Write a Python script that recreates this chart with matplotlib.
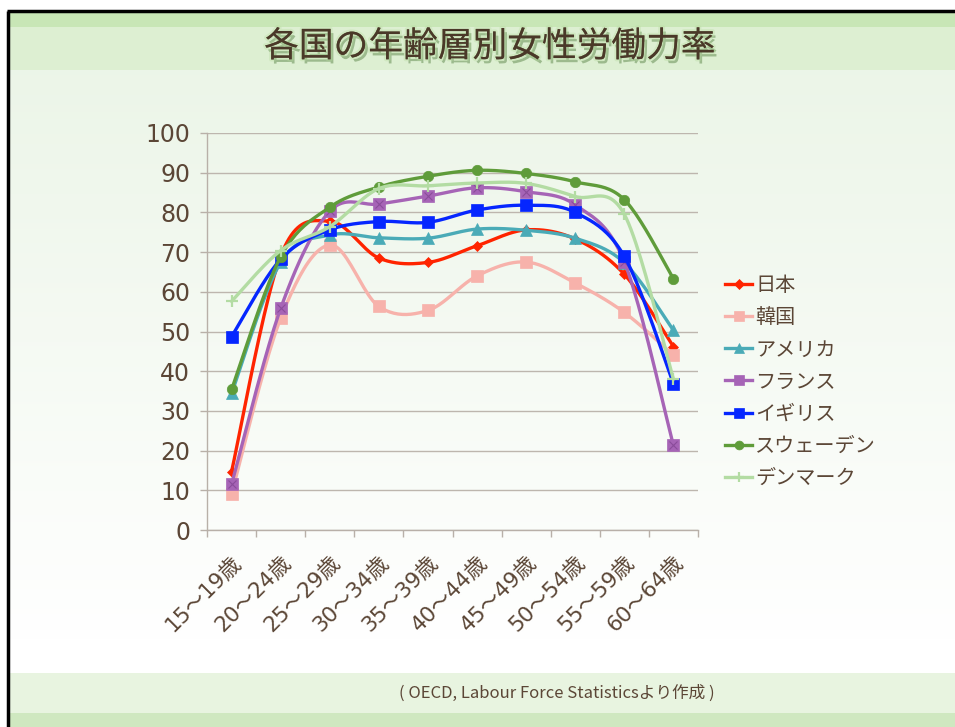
import numpy as np
import matplotlib
matplotlib.use("Agg")
import matplotlib.pyplot as plt
import matplotlib.patheffects as pe
from matplotlib.patches import Rectangle
from matplotlib.lines import Line2D

plt.rcParams['font.family'] = ['Noto Sans CJK JP', 'DejaVu Sans']

# ---------------- data ----------------
ages = ['15〜19歳', '20〜24歳', '25〜29歳', '30〜34歳', '35〜39歳',
        '40〜44歳', '45〜49歳', '50〜54歳', '55〜59歳', '60〜64歳']
countries = ['日本', '韓国', 'アメリカ', 'フランス', 'イギリス', 'スウェーデン', 'デンマーク']
japan = [14.7, 69.0, 77.8, 68.5, 67.4, 71.6, 75.6, 73.3, 64.4, 46.2]
korea = [9.1, 53.3, 71.8, 56.3, 55.3, 64.0, 67.5, 62.2, 54.8, 44.0]
usa = [34.4, 67.4, 74.3, 73.6, 73.5, 75.8, 75.5, 73.5, 67.3, 50.3]
france = [11.5, 55.8, 80.3, 82.1, 84.1, 86.2, 85.2, 81.9, 67.5, 21.3]
uk = [48.7, 68.2, 75.6, 77.7, 77.5, 80.6, 81.8, 80.0, 68.9, 36.9]
sweden = [35.4, 68.8, 81.3, 86.4, 89.1, 90.6, 89.8, 87.7, 83.2, 63.3]
denmark = [57.6, 70.4, 76.4, 86.0, 86.7, 87.4, 87.3, 84.0, 79.5, 38.0]
yticks = [0, 10, 20, 30, 40, 50, 60, 70, 80, 90, 100]

series = [japan, korea, usa, france, uk, sweden, denmark]
colors = ['#ff2400', '#f7b2ab', '#4aabb7', '#a664b6', '#0526ff', '#5f9c3a', '#b3dca3']
markers = ['D', 's', '^', 's', 's', 'o', '+']
msizes = [5.5, 8, 8, 8, 8, 7.5, 9]

TXT = '#5b4636'
W, H = 955, 727
NUMFONT = ['DejaVu Sans', 'Noto Sans CJK JP']


def smooth(x, y, n=24):
    x = np.asarray(x, float)
    y = np.asarray(y, float)
    P = np.column_stack([x, y])
    Pe = np.vstack([P[0], P, P[-1]])
    out = []
    t = np.linspace(0, 1, n)[:, None]
    for i in range(len(P) - 1):
        p0, p1, p2, p3 = Pe[i], Pe[i + 1], Pe[i + 2], Pe[i + 3]
        c1 = p1 + (p2 - p0) / 6.0
        c2 = p2 - (p3 - p1) / 6.0
        seg = ((1 - t) ** 3) * p1 + 3 * ((1 - t) ** 2) * t * c1 + 3 * (1 - t) * t ** 2 * c2 + t ** 3 * p2
        out.append(seg if i == 0 else seg[1:])
    seg = np.vstack(out)
    return seg[:, 0], seg[:, 1]


fig = plt.figure(figsize=(W / 100, H / 100), dpi=100)

# ---------------- background ----------------
bg = fig.add_axes([0, 0, 1, 1], zorder=-10)
bg.set_xlim(0, W)
bg.set_ylim(H, 0)
bg.axis('off')
grad = np.linspace(0, 1, 256)[:, None]
top = np.array([0.925, 0.962, 0.91])
bot = np.array([1.0, 1.0, 1.0])
img = top[None, None, :] * (1 - grad[:, :, None]) + bot[None, None, :] * grad[:, :, None]
img = np.clip(img, 0, 1)
bg.imshow(np.repeat(img, 2, axis=1), extent=[8, W, 640, 70], aspect='auto', zorder=0)
bg.add_patch(Rectangle((8, 12), W, 15, color='#c8e6b6', zorder=1, lw=0))
bg.add_patch(Rectangle((8, 27), W, 43, color='#ddefd2', zorder=1, lw=0))
bg.add_patch(Rectangle((8, 640), W, 33, color='#ffffff', zorder=1, lw=0))
bg.add_patch(Rectangle((8, 673), W, 40, color='#e8f4e0', zorder=1, lw=0))
bg.add_patch(Rectangle((8, 713), W, 14, color='#cfe8c0', zorder=1, lw=0))
bg.plot([8, 8], [11, H], color='black', lw=2.5, zorder=3, solid_capstyle='butt')
bg.plot([7, W], [11, 11], color='black', lw=2.5, zorder=3, solid_capstyle='butt')

bg.text(490, 47, '各国の年齢層別女性労働力率', ha='center', va='center',
        fontsize=25, color='#4a3828', zorder=5,
        path_effects=[pe.withSimplePatchShadow(offset=(2, -3), shadow_rgbFace='#4d7a3a', alpha=0.45),
                      pe.withStroke(linewidth=3, foreground='#b8dca0', alpha=0.35)])
bg.text(557, 693, '( OECD, Labour Force Statisticsより作成 )', ha='center', va='center',
        fontsize=12, color=TXT, zorder=5)

# ---------------- main axes ----------------
ax = fig.add_axes([207 / W, 1 - 530 / H, (698 - 207) / W, (530 - 133) / H])
ax.set_facecolor('none')
x = np.arange(len(ages))
handles = []
for i, (vals, c, m, ms, name) in enumerate(zip(series, colors, markers, msizes, countries)):
    sx, sy = smooth(x, vals)
    ax.plot(sx, sy, color=c, lw=2.4, zorder=3 + i, solid_capstyle='round')
    mew = 1.6 if m == '+' else 0.5
    ax.plot(x, vals, ls='none', marker=m, ms=ms, color=c, mec=c, mew=mew, zorder=3 + i)
    if name == 'フランス':
        ax.plot(x, vals, ls='none', marker='x', ms=6, color='#8a4c9a', mew=0.8, zorder=3 + i)
    handles.append(Line2D([], [], color=c, lw=2.4, marker=m, ms=ms * 0.85, mec=c, mew=mew))

ax.set_xlim(-0.5, len(ages) - 0.5)
ax.set_ylim(0, 100)
ax.set_yticks(yticks)
ax.set_yticklabels([str(v) for v in yticks], fontsize=17, color=TXT, family=NUMFONT)
ax.set_xticks(x)
ax.set_xticklabels(ages, rotation=45, ha='right', va='top', rotation_mode='anchor',
                   fontsize=15.5, color=TXT, family=NUMFONT)
ax.set_xticks(np.arange(-0.5, len(ages), 1), minor=True)
ax.tick_params(axis='x', which='major', length=0, pad=16)
ax.tick_params(axis='x', which='minor', length=5, color='#b8b0a8', width=1, direction='out')
ax.tick_params(axis='y', length=5, color='#b8b0a8', width=1, pad=7)
ax.grid(axis='y', color='#bdb6ae', lw=1)
ax.set_axisbelow(True)
for s in ['top', 'right']:
    ax.spines[s].set_visible(False)
for s in ['left', 'bottom']:
    ax.spines[s].set_color('#b8b0a8')
    ax.spines[s].set_linewidth(1)

leg = fig.legend(handles, countries, loc='center left', bbox_to_anchor=(715 / W, 1 - 382 / H),
                 frameon=False, fontsize=14.5, handlelength=1.35, handletextpad=0.15,
                 labelspacing=0.55, numpoints=1, borderpad=0)
for t in leg.get_texts():
    t.set_color(TXT)

fig.savefig('out.png', dpi=100)
